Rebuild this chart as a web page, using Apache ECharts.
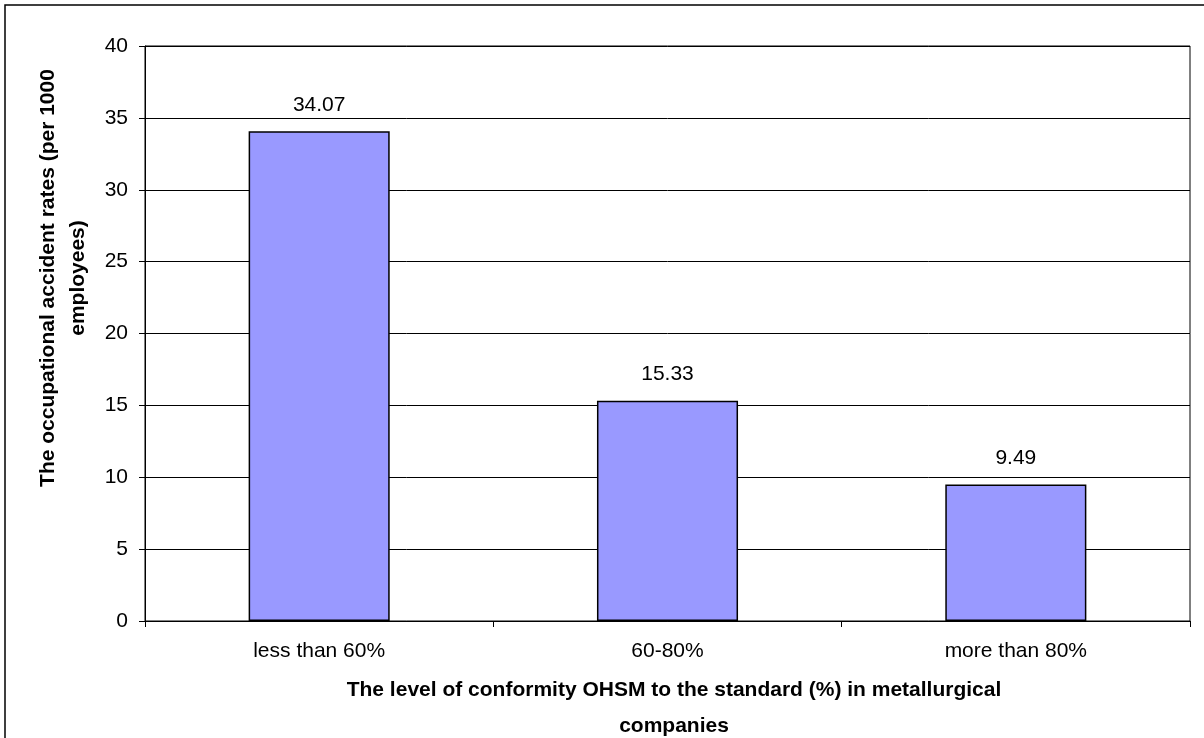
<!DOCTYPE html>
<html>
<head>
<meta charset="utf-8">
<script src="https://cdn.jsdelivr.net/npm/echarts@6/dist/echarts.min.js"></script>
<style>
  html, body { margin: 0; padding: 0; background: #fff; }
  #chart { width: 1204px; height: 738px; }
</style>
</head>
<body>
<div id="chart"></div>
<script>
// Occupational accident rates by OHSM conformity level
const categories = ['less than 60%', '60-80%', 'more than 80%'];
const accidentRates = [34.07, 15.33, 9.49];
const yTicks = { min: 0, max: 40, interval: 5 };

const FONT = 'Liberation Sans, Arial, sans-serif';
const FS = 21;

const chart = echarts.init(document.getElementById('chart'), null, { renderer: 'canvas' });

chart.setOption({
  backgroundColor: '#ffffff',
  animation: false,
  grid: {
    left: 145, right: 14, top: 46, bottom: 117,
    show: true, borderColor: '#000', borderWidth: 1, backgroundColor: 'transparent'
  },
  xAxis: {
    type: 'category',
    data: categories,
    axisLine: { lineStyle: { color: '#000', width: 1 } },
    axisTick: { show: true, length: 6, lineStyle: { color: '#000' } },
    axisLabel: { color: '#000', fontFamily: FONT, fontSize: FS, margin: 20 },
    splitLine: { show: false }
  },
  yAxis: {
    type: 'value',
    min: yTicks.min, max: yTicks.max, interval: yTicks.interval,
    axisLine: { show: true, lineStyle: { color: '#000', width: 1 } },
    axisTick: { show: true, length: 6, lineStyle: { color: '#000' } },
    axisLabel: { color: '#000', fontFamily: FONT, fontSize: FS, margin: 17 },
    splitLine: { show: true, lineStyle: { color: '#000', width: 1 } }
  },
  series: [{
    type: 'bar',
    data: accidentRates,
    barWidth: '40.5%',
    itemStyle: { color: '#9999FF', borderColor: '#000', borderWidth: 1.5 },
    label: {
      show: true, position: 'top', distance: 16,
      color: '#000', fontFamily: FONT, fontSize: FS,
      formatter: p => p.value.toFixed(2)
    }
  }],
  graphic: [
    {
      // outer chart frame
      type: 'rect', silent: true, z: 100,
      shape: { x: 5, y: 5, width: 1230, height: 760 },
      style: { fill: 'none', stroke: '#000', lineWidth: 1.5 }
    },
    {
      // y axis title
      type: 'text', silent: true,
      x: 63, y: 278, rotation: Math.PI / 2,
      style: {
        text: 'The occupational accident rates (per 1000\nemployees)',
        font: 'bold ' + FS + 'px ' + FONT, fill: '#000',
        align: 'center', verticalAlign: 'middle', lineHeight: 30
      }
    },
    {
      // x axis title
      type: 'text', silent: true,
      x: 674, y: 708,
      style: {
        text: 'The level of conformity OHSM to the standard (%) in metallurgical\ncompanies',
        font: 'bold ' + FS + 'px ' + FONT, fill: '#000',
        align: 'center', verticalAlign: 'middle', lineHeight: 36
      }
    }
  ]
});
</script>
</body>
</html>
